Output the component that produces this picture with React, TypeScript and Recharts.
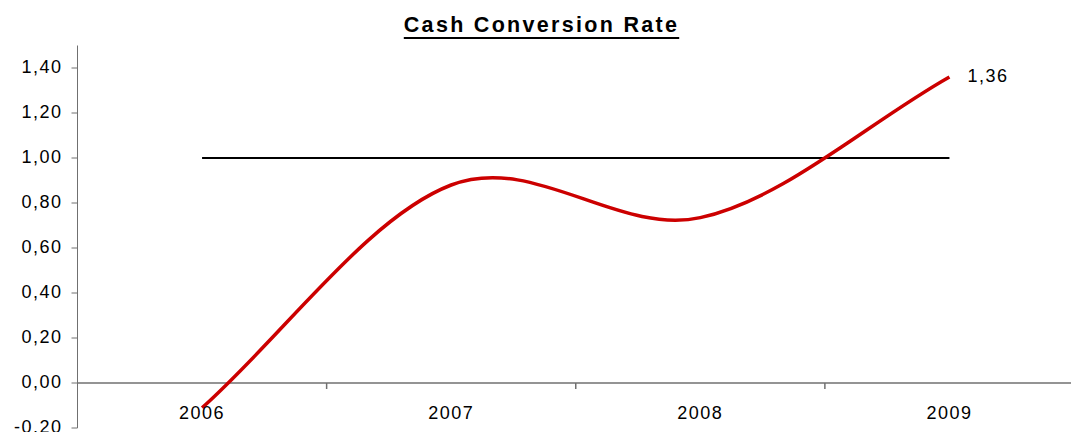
import React from 'react';
import { LineChart, Line, XAxis, YAxis, ReferenceLine, LabelList } from 'recharts';

// Fiscal years on the category axis
const years = ['2006', '2007', '2008', '2009'];
// Cash conversion rate per year
const cashConversion = [-0.11, 0.88, 0.735, 1.36];
// Target level (rate = 1.00)
const target = [1, 1, 1, 1];
// Value-axis ticks
const yTicks = [-0.2, 0, 0.2, 0.4, 0.6, 0.8, 1.0, 1.2, 1.4];
// Categories whose left edge carries a separator mark on the zero line
const separatorYears = ['2007', '2008', '2009'];

const data = years.map((year, i) => ({ year, rate: cashConversion[i], target: target[i] }));

const FONT = '"Liberation Sans", Arial, Helvetica, sans-serif';
const AXIS_GREY = '#707070';
const fmt = (v: number) => v.toFixed(2).replace('.', ',');

// Smoothed line: cubic Bezier segments with Catmull-Rom tangents at inner
// points and chord tangents at both ends.
function smoothCurve(context: any) {
  let pts: number[][] = [];
  const tangent = (k: number) => {
    const n = pts.length;
    if (k === 0) return [pts[1][0] - pts[0][0], pts[1][1] - pts[0][1]];
    if (k === n - 1) return [pts[n - 1][0] - pts[n - 2][0], pts[n - 1][1] - pts[n - 2][1]];
    return [(pts[k + 1][0] - pts[k - 1][0]) / 2, (pts[k + 1][1] - pts[k - 1][1]) / 2];
  };
  return {
    areaStart() {},
    areaEnd() {},
    lineStart() {
      pts = [];
    },
    point(x: number, y: number) {
      pts.push([+x, +y]);
    },
    lineEnd() {
      const n = pts.length;
      if (n === 0) return;
      context.moveTo(pts[0][0], pts[0][1]);
      if (n === 1) return;
      for (let i = 0; i < n - 1; i++) {
        const a = pts[i];
        const b = pts[i + 1];
        const ta = tangent(i);
        const tb = tangent(i + 1);
        context.bezierCurveTo(
          a[0] + ta[0] / 3,
          a[1] + ta[1] / 3,
          b[0] - tb[0] / 3,
          b[1] - tb[1] / 3,
          b[0],
          b[1]
        );
      }
    },
  };
}

const YTick = (props: any) => {
  const { x, y, payload } = props;
  return (
    <text x={x} y={y} dy="0.28em" textAnchor="end" fontFamily={FONT} fontSize={18} letterSpacing={1.5} fill="#000">
      {fmt(payload.value)}
    </text>
  );
};

const XTick = (props: any) => {
  const { x, y, payload } = props;
  return (
    <text x={x} y={y} dy={-9} textAnchor="middle" fontFamily={FONT} fontSize={18} letterSpacing={1.5} fill="#000">
      {payload.value}
    </text>
  );
};

const SeparatorMark = (props: any) => {
  const top = Math.min(props.y1, props.y2);
  return <line x1={props.x1} y1={top} x2={props.x1} y2={top + 6} stroke={AXIS_GREY} strokeWidth={1.5} />;
};

const EndLabel = (props: any) => {
  const { x, y, value, index } = props;
  if (index !== years.length - 1) return null;
  return (
    <text x={x + 18} y={y} dy="0.3em" textAnchor="start" fontFamily={FONT} fontSize={18} letterSpacing={1.5} fill="#000">
      {fmt(Number(value))}
    </text>
  );
};

export default function App() {
  return (
    <div style={{ position: 'absolute', left: 0, top: 0, width: 1071, height: 432, overflow: 'hidden', background: '#fff' }}>
      <div
        style={{
          position: 'absolute',
          left: 541.5,
          top: 15,
          transform: 'translateX(-50%)',
          whiteSpace: 'nowrap',
          fontFamily: FONT,
          fontWeight: 'bold',
          fontSize: 21.5,
          lineHeight: '21px',
          letterSpacing: 2.3,
          textDecoration: 'underline',
          textDecorationThickness: 2,
          textUnderlineOffset: 5,
          color: '#000',
        }}
      >
        Cash Conversion Rate
      </div>
      <LineChart
        width={1074}
        height={432}
        data={data}
        margin={{ top: 45.5, right: 0, bottom: 3, left: 0 }}
        style={{ overflow: 'visible' }}
      >
        <XAxis
          xAxisId="cat"
          dataKey="year"
          scale="band"
          axisLine={false}
          tickLine={false}
          tickSize={0}
          tickMargin={0}
          height={1}
          interval={0}
          tick={XTick}
        />
        <YAxis
          domain={[-0.2, 1.5]}
          ticks={yTicks}
          interval={0}
          width={77.5}
          allowDataOverflow
          axisLine={{ stroke: AXIS_GREY, strokeWidth: 1 }}
          tickLine={{ stroke: AXIS_GREY, strokeWidth: 1 }}
          tickSize={6}
          tickMargin={9}
          tick={YTick}
        />
        <ReferenceLine xAxisId="cat" y={0} stroke={AXIS_GREY} strokeWidth={1.5} />
        {separatorYears.map((yr) => (
          <ReferenceLine
            key={yr}
            xAxisId="cat"
            position="start"
            segment={[
              { x: yr, y: 0 },
              { x: yr, y: -0.2 },
            ]}
            shape={SeparatorMark}
          />
        ))}
        <Line
          xAxisId="cat"
          dataKey="target"
          type="linear"
          stroke="#000"
          strokeWidth={2}
          dot={false}
          activeDot={false}
          isAnimationActive={false}
        />
        <Line
          xAxisId="cat"
          dataKey="rate"
          type={smoothCurve as any}
          stroke="#CC0000"
          strokeWidth={3.5}
          strokeLinejoin="round"
          dot={false}
          activeDot={false}
          isAnimationActive={false}
        >
          <LabelList dataKey="rate" content={EndLabel} />
        </Line>
      </LineChart>
    </div>
  );
}
